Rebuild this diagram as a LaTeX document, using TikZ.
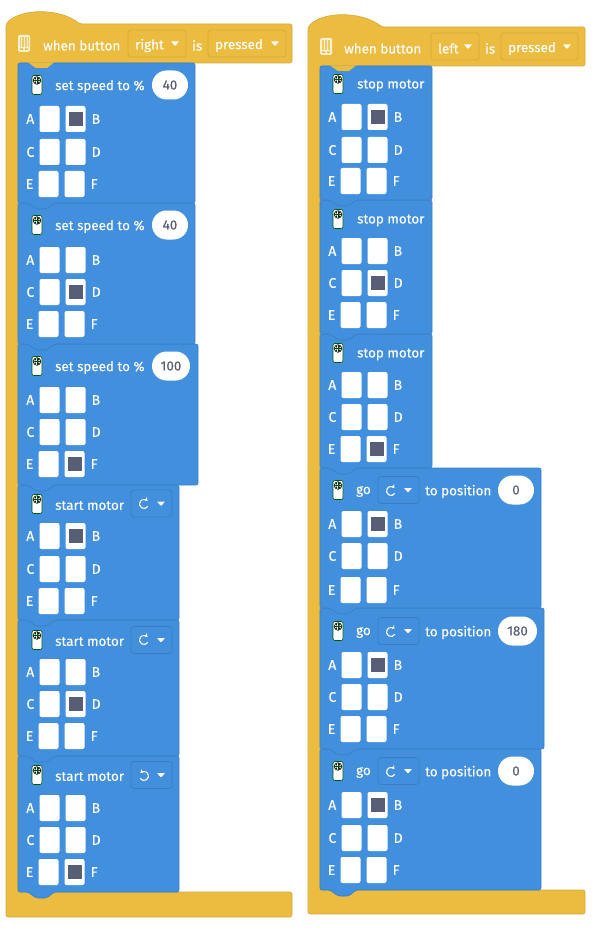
\documentclass[tikz,border=0pt]{standalone}
\usepackage{fontspec}
\setmainfont[FakeBold=0.25]{Fira Sans}
\usetikzlibrary{positioning,arrows.meta}
\definecolor{hatyellow}{HTML}{EBBC40}
\definecolor{hatedge}{HTML}{D3A93C}
\definecolor{hubpale}{HTML}{F9F0D2}
\definecolor{blockblue}{HTML}{428FDE}
\definecolor{blockedge}{HTML}{3A7DC4}
\definecolor{slate}{HTML}{575E75}
\tikzset{
	blocktxt/.style={text=white,font=\fontsize{13.4}{13.4}\selectfont,inner sep=0pt,anchor=west,yshift=-1.5pt},
	cellbox/.style={fill=white,rounded corners=2,minimum width=20pt,minimum height=26pt,inner sep=0pt,outer sep=0pt},
	cellon/.style={fill=slate,minimum size=14pt,inner sep=0pt},
	celltxt/.style={text=white,font=\fontsize{14}{14}\selectfont,inner sep=0pt},
	oval/.style={fill=white,rounded corners=14.5,minimum height=29pt,inner sep=0pt,text=slate,font=\fontsize{13.4}{13.4}\selectfont},
	hatdrop/.style={draw=hatedge,line width=0.7pt,rounded corners=3,minimum height=27pt,inner sep=0pt},
	bluedrop/.style={draw=blockedge,line width=0.7pt,rounded corners=3,minimum width=41pt,minimum height=27pt,inner sep=0pt},
}
% name, left, top, right, bottom
\newcommand{\blockbody}[5]{
	\draw[fill=blockblue,draw=blockedge,line width=0.6pt,rounded corners=2] (#2,#3) -- (#4,#3) -- (#4,#5) -- (#2+36,#5)
		-- (#2+29,#5+6) -- (#2+18,#5+6) -- (#2+10,#5) -- (#2,#5) -- cycle;
	\coordinate (#1) at (#2,#3);
}
% name, left, yA, yC, yE, lit cell
\newcommand{\cellgrid}[6]{
	\foreach \lab/\dx/\ypos in {A/31.5/#3,C/31.5/#4,E/30.5/#5,B/57.5/#3,D/57.5/#4,F/56.5/#5} {
		\node[cellbox] (#1-\lab) at (#2+\dx,\ypos) {};
	}
	\foreach \lab in {A,C,E} \node[celltxt,left=5pt of #1-\lab] (#1-t\lab) {\lab};
	\foreach \lab in {B,D,F} \node[celltxt,right=6pt of #1-\lab] (#1-t\lab) {\lab};
	\node[cellon] (#1-on) at (#1-#6) {};
}
% name, x, y
\newcommand{\motoricon}[3]{
	\node[fill=white,draw=black!65!green,line width=0.6pt,rounded corners=2,minimum width=10pt,minimum height=19pt,inner sep=0pt] (#1) at (#2,#3) {};
	\draw[black,line width=0.6pt] (#2,#3-4.5) circle (3.8);
	\draw[black!70!green,line width=0.6pt] (#2-3.8,#3-4.5) -- (#2+3.8,#3-4.5) (#2,#3-8.3) -- (#2,#3-0.7);
	\fill[black] (#2-1.8,#3-6.3) circle (0.9) (#2+1.8,#3-6.3) circle (0.9) (#2-1.8,#3-2.7) circle (0.9) (#2+1.8,#3-2.7) circle (0.9);
}
% x, y
\newcommand{\droparrow}[2]{
	\fill[white,rounded corners=0.5] (#1-4,#2-2) -- (#1+4,#2-2) -- (#1,#2+2.5) -- cycle;
}
% x, y, 1 turns one way and -1 the other
\newcommand{\turnicon}[3]{
	\draw[white,line width=1.1pt,-{Stealth[length=3.5pt,width=4.5pt]}] ({#1+#3*3.9},{#2+2.25}) arc[start angle=-30,delta angle=-290,x radius=#3*4.5,y radius=-4.5];
}
% name, x, y
\newcommand{\hubicon}[3]{
	\node[fill=hubpale,rounded corners=1.5,minimum width=12pt,minimum height=17pt,inner sep=0pt] (#1) at (#2,#3) {};
	\fill[hatyellow!80!white] (#2-4.5,#3-6) rectangle (#2+4.5,#3+3.5);
	\draw[hubpale,line width=0.4pt,step=3] (#2-4.5,#3-6) grid (#2+4.5,#3+3.5);
	\fill[hatyellow] (#2-4,#3+5) rectangle (#2-1,#3+6.5) (#2+1,#3+5) rectangle (#2+4,#3+6.5);
}
\begin{document}
\begin{tikzpicture}[x=1pt,y=-1pt]
	\useasboundingbox (0,0) rectangle (592,928);

	% left stack
	\draw[fill=hatyellow,draw=hatedge,line width=0.6pt,rounded corners=2] (6,24) .. controls (20,8) and (60,8) .. (80,24)
		-- (292,24) -- (292,63) -- (18,63) -- (18,892) -- (292,892) -- (292,917) -- (6,917) -- cycle;
	\blockbody{la6}{18}{756}{179}{892}
	\blockbody{la5}{18}{620}{179}{756}
	\blockbody{la4}{18}{485}{179}{620}
	\blockbody{la3}{18}{344}{198}{485}
	\blockbody{la2}{18}{203}{195}{344}
	\blockbody{la1}{18}{63}{195}{203}
	\fill[hatyellow] (28,62.5) -- (36,68) -- (47,68) -- (54,62.5) -- cycle;

	\hubicon{lhub}{24}{43.5}
	\node[blocktxt] (lwhen) at (43,44) {when button};
	\node[hatdrop,minimum width=58pt] (ldrop) at (157,43.5) {};
	\node[blocktxt] (lright) at (135,44) {right};
	\droparrow{175}{43.5}
	\node[blocktxt] (lis) at (192,44) {is};
	\node[hatdrop,minimum width=78pt] (ldrop2) at (247,43.5) {};
	\node[blocktxt] (lpress) at (215,44) {pressed};
	\droparrow{275}{43.5}

	\motoricon{lm1}{37}{85}
	\node[blocktxt] (ls1) at (55,85) {set speed to \%};
	\node[oval,minimum width=36pt] (lv1) at (170,85) {40};
	\cellgrid{lg1}{18}{119}{152}{184}{B}

	\motoricon{lm2}{37}{225}
	\node[blocktxt] (ls2) at (55,225) {set speed to \%};
	\node[oval,minimum width=36pt] (lv2) at (170,225) {40};
	\cellgrid{lg2}{18}{260}{292}{324}{D}

	\motoricon{lm3}{37}{366}
	\node[blocktxt] (ls3) at (55,366) {set speed to \%};
	\node[oval,minimum width=38pt] (lv3) at (171,366) {100};
	\cellgrid{lg3}{18}{400}{432}{464}{F}

	\motoricon{lm4}{37}{504}
	\node[blocktxt] (ls4) at (55,504) {start motor};
	\node[bluedrop] (ld4) at (151.5,503.5) {};
	\turnicon{144}{504}{1}
	\droparrow{161}{503.5}
	\cellgrid{lg4}{18}{536}{569}{601}{B}

	\motoricon{lm5}{37}{640}
	\node[blocktxt] (ls5) at (55,640) {start motor};
	\node[bluedrop] (ld5) at (151.5,640) {};
	\turnicon{144}{640}{1}
	\droparrow{161}{640}
	\cellgrid{lg5}{18}{672}{704}{736}{D}

	\motoricon{lm6}{37}{775}
	\node[blocktxt] (ls6) at (55,775) {start motor};
	\node[bluedrop] (ld6) at (151.5,775) {};
	\turnicon{144}{776}{-1}
	\droparrow{161}{775}
	\cellgrid{lg6}{18}{808}{840}{872}{F}

	% right stack
	\draw[fill=hatyellow,draw=hatedge,line width=0.6pt,rounded corners=2] (308,27) .. controls (322,11) and (362,11) .. (382,27)
		-- (585,27) -- (585,66) -- (320,66) -- (320,890) -- (585,890) -- (585,914) -- (308,914) -- cycle;
	\blockbody{ra6}{320}{749}{541}{890}
	\blockbody{ra5}{320}{608}{544}{749}
	\blockbody{ra4}{320}{468}{541}{608}
	\blockbody{ra3}{320}{334}{432}{468}
	\blockbody{ra2}{320}{200}{432}{334}
	\blockbody{ra1}{320}{66}{432}{200}
	\fill[hatyellow] (330,65.5) -- (338,71) -- (349,71) -- (356,65.5) -- cycle;

	\hubicon{rhub}{326}{46.5}
	\node[blocktxt] (rwhen) at (344,47) {when button};
	\node[hatdrop,minimum width=48pt] (rdrop) at (455,46.5) {};
	\node[blocktxt] (rleft) at (438,47) {left};
	\droparrow{468}{46.5}
	\node[blocktxt] (ris) at (485,47) {is};
	\node[hatdrop,minimum width=77pt] (rdrop2) at (539.5,46.5) {};
	\node[blocktxt] (rpress) at (508,47) {pressed};
	\droparrow{567}{46.5}

	\motoricon{rm1}{338}{84}
	\node[blocktxt] (rs1) at (357,84) {stop motor};
	\cellgrid{rg1}{320}{117}{150}{181}{B}

	\motoricon{rm2}{338}{219}
	\node[blocktxt] (rs2) at (357,219) {stop motor};
	\cellgrid{rg2}{320}{251}{283}{315}{D}

	\motoricon{rm3}{338}{353}
	\node[blocktxt] (rs3) at (357,353) {stop motor};
	\cellgrid{rg3}{320}{385}{417}{449}{F}

	\motoricon{rm4}{338}{490}
	\node[blocktxt] (rs4) at (356,490) {go};
	\node[bluedrop] (rd4) at (398.5,490) {};
	\turnicon{391}{491}{1}
	\droparrow{408}{490}
	\node[blocktxt] (rt4) at (425,490) {to position};
	\node[oval,minimum width=36pt] (rv4) at (516,490) {0};
	\cellgrid{rg4}{320}{524}{556}{590}{B}

	\motoricon{rm5}{338}{631}
	\node[blocktxt] (rs5) at (356,631) {go};
	\node[bluedrop] (rd5) at (398.5,631) {};
	\turnicon{391}{632}{1}
	\droparrow{408}{631}
	\node[blocktxt] (rt5) at (425,631) {to position};
	\node[oval,minimum width=39pt] (rv5) at (517.5,631) {180};
	\cellgrid{rg5}{320}{665}{697}{729}{B}

	\motoricon{rm6}{338}{771}
	\node[blocktxt] (rs6) at (356,771) {go};
	\node[bluedrop] (rd6) at (398.5,771) {};
	\turnicon{391}{772}{1}
	\droparrow{408}{771}
	\node[blocktxt] (rt6) at (425,771) {to position};
	\node[oval,minimum width=36pt] (rv6) at (516,771) {0};
	\cellgrid{rg6}{320}{805}{838}{870}{B}
\end{tikzpicture}
\end{document}
